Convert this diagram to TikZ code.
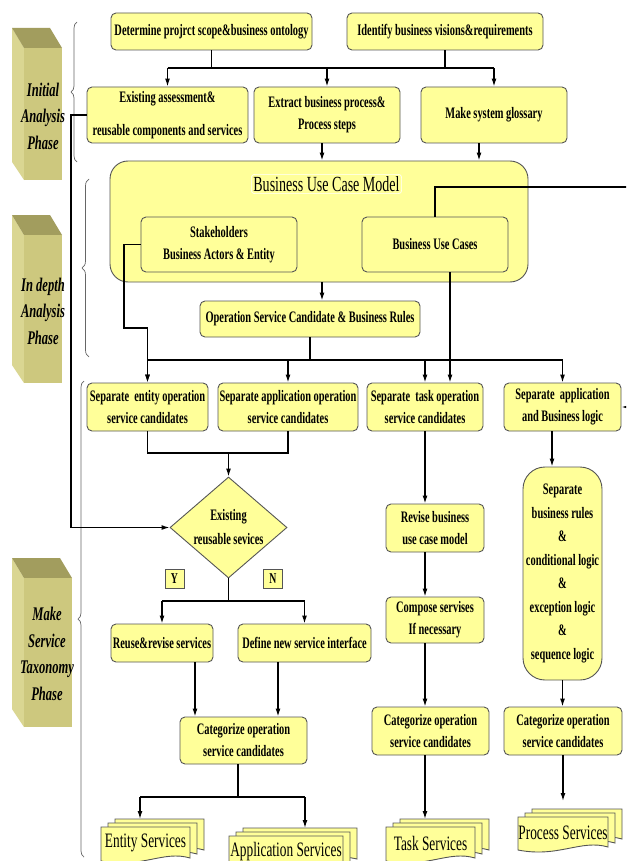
\documentclass[tikz,border=0pt]{standalone}
\usepackage{fontspec}
\setmainfont{Liberation Serif}[FakeStretch=0.65]
\usetikzlibrary{arrows.meta,shapes.geometric,decorations.pathreplacing,calc}

\definecolor{boxfill}{HTML}{FFFF99}
\definecolor{boxline}{HTML}{555555}
\definecolor{phasefront}{HTML}{CDC87E}
\definecolor{phasetop}{HTML}{A29D5E}
\definecolor{phaseside}{HTML}{DAD692}

% one sheet of a document stack: left, right, top, height
\newcommand\docsheet[4]{%
  \filldraw[sheet] ({#1},{#3}) -- ({#2},{#3}) -- ({#2},{(#3)+(#4)-3})
    .. controls ({(#2)-0.3*((#2)-(#1))},{(#3)+(#4)-11}) and ({(#1)+0.45*((#2)-(#1))},{(#3)+(#4)+8})
    .. ({#1},{(#3)+(#4)}) -- cycle;}
% three stacked sheets with a caption: name, left, right, top, height, caption
\newcommand\docstack[6]{%
  \docsheet{#2+14}{#3+14}{#4-8}{#5}%
  \docsheet{#2+7}{#3+7}{#4-4}{#5}%
  \docsheet{#2}{#3}{#4}{#5}%
  \coordinate (#1top) at ({(#2)+14},{(#4)-8});%
  \node[doctext] (#1) at ({((#2)+(#3))/2},{(#4)+(#5)/2-1}) {#6};}

\begin{document}
\begin{tikzpicture}[x=1pt,y=-1pt,
  sz/.style 2 args={minimum width=#1pt, minimum height=#2pt},
  box/.style={draw=boxline, fill=boxfill, line width=0.9pt, rounded corners=5pt,
    align=center, inner sep=1pt, font=\fontsize{16}{22}\selectfont\bfseries},
  conn/.style={line width=1.3pt},
  arr/.style={conn, -{Latex[length=8pt,width=5pt]}},
  phase/.style={inner sep=0pt, align=center, font=\fontsize{19.3}{26.5}\selectfont\bfseries\itshape},
  yn/.style={draw=boxline, fill=boxfill, line width=0.9pt, minimum size=19pt, inner sep=0pt,
    font=\fontsize{15}{15}\selectfont\bfseries},
  sheet/.style={draw=boxline, fill=boxfill, line width=0.9pt},
  doctext/.style={font=\fontsize{20.5}{20.5}\selectfont, inner sep=0pt},
  bracket/.style={draw=gray!80!black, line width=0.7pt, decorate, decoration={brace, amplitude=#1}},
]
\useasboundingbox (0,0) rectangle (626,861);
\fill[white] (0,0) rectangle (626,861);
\clip (0,0) rectangle (626,861);

% ---------- phase blocks ----------
\fill[phaseside] (12,28) -- (24,48) -- (24,180) -- (12,162) -- cycle;
\fill[phasetop] (12,28) -- (50,28) -- (62,48) -- (24,48) -- cycle;
\fill[phasefront] (24,48) rectangle (62,180);
\node[phase] (ph1) at (43,116) {Initial\\Analysis\\Phase};

\fill[phaseside] (12,215) -- (24,235) -- (24,383) -- (12,365) -- cycle;
\fill[phasetop] (12,215) -- (50,215) -- (62,235) -- (24,235) -- cycle;
\fill[phasefront] (24,235) rectangle (62,383);
\node[phase] (ph2) at (43,311) {In depth\\Analysis\\Phase};

\fill[phaseside] (12,558) -- (24,578) -- (24,727) -- (12,709) -- cycle;
\fill[phasetop] (12,558) -- (60,558) -- (72,578) -- (24,578) -- cycle;
\fill[phasefront] (24,578) rectangle (72,727);
\node[phase] (ph3) at (47,654) {Make\\Service\\Taxonomy\\Phase};

\draw[bracket=6pt] (77,162) -- (77,22);
\draw[bracket=7pt] (89,357) -- (89,179);
\draw[bracket=6pt] (84,857) -- (84,381);

% ---------- initial analysis ----------
\node[box, sz={201}{37}] (det) at (211.5,31.5) {Determine projrct scope\&business ontology};
\node[box, sz={196}{37}] (ident) at (445,31.5) {Identify business visions\&requirements};
\node[box, sz={161}{56}] (exist) at (167.5,115) {Existing assessment\&\\[11pt]reusable components and services};
\node[box, sz={146}{56}] (extract) at (327,115) {Extract business process\&\\Process steps};
\node[box, sz={146}{56}] (glossary) at (494,115) {Make system glossary};

% ---------- business use case model ----------
\node[box, rounded corners=18pt, sz={418}{121}] (bucm) at (319,221.5) {};
\node[font=\fontsize{21.6}{24}\selectfont, draw=white, line width=0.6pt, rounded corners=3pt,
  inner sep=2pt] (bucmtitle) at (326.5,184) {Business Use Case Model};
\node[box, sz={156}{55}] (stake) at (219,244.5) {Stakeholders\\Business Actors \& Entity};
\node[box, sz={146}{55}] (buc) at (435,244.5) {Business Use Cases};
\node[box, sz={220}{36}] (oper) at (310,319) {Operation Service Candidate \& Business Rules};

% ---------- separation row ----------
\node[box, sz={121}{48}] (sepent) at (147.5,407) {Separate~ entity operation\\service candidates};
\node[box, sz={140}{48}] (sepapp) at (288,407) {Separate application operation\\service candidates};
\node[box, sz={116}{48}] (septask) at (425,407) {Separate~ task operation\\service candidates};
\node[box, sz={117}{48}] (seplogic) at (562.5,407) {Separate~ application\\and Business logic};

% ---------- entity / application branch ----------
\node[diamond, draw=boxline, fill=boxfill, line width=0.9pt, sz={117}{101}, inner sep=0pt,
  label={[align=center, font=\fontsize{16}{24}\selectfont\bfseries]center:Existing\\reusable sevices}]
  (dia) at (228.5,527.5) {};
\node[yn] (ylab) at (174.5,578.5) {Y};
\node[yn] (nlab) at (273,578.5) {N};
\node[box, sz={102}{38}] (reuse) at (162,643) {Reuse\&revise services};
\node[box, sz={133}{38}] (define) at (304.5,643) {Define new service interface};
\node[box, sz={127}{47}] (catL) at (243.5,740.5) {Categorize operation\\service candidates};

% ---------- task branch ----------
\node[box, sz={98}{48}] (revise) at (435,528) {Revise business\\use case model};
\node[box, sz={98}{46}] (compose) at (435,620) {Compose servises\\If necessary};
\node[box, sz={117}{48}] (catT) at (430.5,731) {Categorize operation\\service candidates};

% ---------- process branch ----------
\node[box, rounded corners=22pt, sz={79}{213}, font=\fontsize{16}{23.5}\selectfont\bfseries]
  (rules) at (562.5,573.5)
  {Separate\\business rules\\\&\\conditional logic\\\&\\exception logic\\\&\\sequence logic};
\node[box, sz={118}{48}] (catP) at (563,731) {Categorize operation\\service candidates};

% ---------- service stacks ----------
\docstack{entity}{101}{190}{827}{34}{Entity Services}
\docstack{app}{229}{343}{836}{34}{Application Services}
\docstack{task}{386}{475}{827}{34}{Task Services}
\docstack{process}{518}{608}{817}{33}{Process Services}

% ---------- connectors ----------
\coordinate (busA) at (0,68);
\draw[conn] (det.south) -- (det.south |- busA);
\draw[conn] (ident.south) -- (ident.south |- busA);
\draw[conn] (exist.north |- busA) -- (glossary.north |- busA);
\draw[arr] (exist.north |- busA) -- (exist.north);
\draw[arr] (extract.north |- busA) -- (extract.north);
\draw[arr] (glossary.north |- busA) -- (glossary.north);

\draw[arr] ([xshift=-5pt]extract.south) -- ([xshift=-5pt]extract.south |- bucm.north);
\draw[arr] ([xshift=-15pt]glossary.south) -- ([xshift=-15pt]glossary.south |- bucm.north);
\draw[arr] ([xshift=3pt]bucm.south) -- ([xshift=3pt]bucm.south |- oper.north);

\coordinate (busB) at (0,360);
\draw[conn] (oper.south) -- (oper.south |- busB);
\draw[conn] (sepent.north |- busB) -- (seplogic.north |- busB);
\draw[arr] (sepent.north |- busB) -- (sepent.north);
\draw[arr] (sepapp.north |- busB) -- (sepapp.north);
\draw[arr] (septask.north |- busB) -- (septask.north);
\draw[arr] (seplogic.north |- busB) -- (seplogic.north);

\draw[arr] (stake.west) -- (124,244.5) -- (124,328) -- (147.5,328) -- (sepent.north);
\draw[arr] ([xshift=15pt]buc.south) -- ([xshift=15pt]buc.south |- septask.north);
\draw[arr] (buc.north) |- (632,187) |- (seplogic.east);
\draw[arr] (exist.west) -| (71,527.5) -- (dia.west);

\coordinate (busC) at (0,453);
\draw[conn] (sepent.south) |- (sepapp.south |- busC) -- (sepapp.south);
\draw[arr] (dia.north |- busC) -- (dia.north);

\coordinate (busD) at (0,601);
\draw[conn] (dia.south) -- (dia.south |- busD);
\draw[conn] (reuse.north |- busD) -- (define.north |- busD);
\draw[arr] (reuse.north |- busD) -- (reuse.north);
\draw[arr] (define.north |- busD) -- (define.north);
\draw[arr] ([xshift=33pt]reuse.south) -- ([xshift=33pt]reuse.south |- catL.north);
\draw[arr] ([xshift=-26.5pt]define.south) -- ([xshift=-26.5pt]define.south |- catL.north);

\coordinate (busE) at (0,797);
\coordinate (eDrop) at (140,797);
\coordinate (aDrop) at (305,797);
\draw[conn] ([xshift=-5.5pt]catL.south) -- ([xshift=-5.5pt]catL.south |- busE);
\draw[conn] (eDrop) -- (aDrop);
\draw[arr] (eDrop) -- (eDrop |- entitytop);
\draw[arr] (aDrop) -- (aDrop |- apptop);

\draw[arr] (septask.south) -- (septask.south |- revise.north);
\draw[arr] ([xshift=-10pt]revise.south) -- ([xshift=-10pt]revise.south |- compose.north);
\draw[arr] ([xshift=-10pt]compose.south) -- ([xshift=-10pt]compose.south |- catT.north);
\draw[arr] ([xshift=-5.5pt]catT.south) -- ([xshift=-5.5pt]catT.south |- tasktop);

\draw[arr] ([xshift=-10.5pt]seplogic.south) -- ([xshift=-10.5pt]seplogic.south |- rules.north);
\draw[arr] (rules.south) -- (rules.south |- catP.north);
\draw[arr, shorten >=8pt] (catP.south) -- (catP.south |- processtop);
\end{tikzpicture}
\end{document}
